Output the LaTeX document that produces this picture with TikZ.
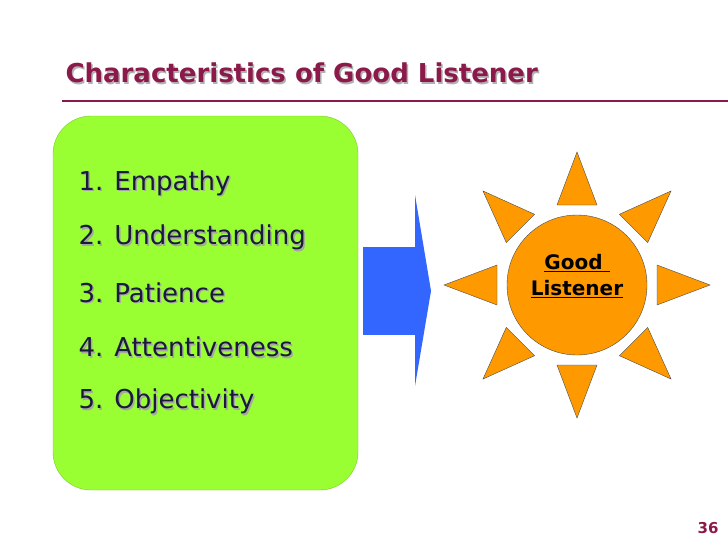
\documentclass[tikz,border=0pt]{standalone}
\usepackage{fontspec}
\setmainfont{DejaVu Sans}
\usepackage{xcolor}
\usetikzlibrary{calc}
\definecolor{maroon}{HTML}{8B1A4A}
\definecolor{navy}{HTML}{1A1A3A}
\definecolor{limegreen}{HTML}{99FF33}
\definecolor{sunorange}{HTML}{FF9900}
\definecolor{arrowblue}{HTML}{3366FF}
\tikzset{
  item/.style={anchor=west, text=navy, font=\fontsize{26}{30}\selectfont},
  ray/.style={draw=black!70, fill=sunorange, thin}
}
\begin{document}
\begin{tikzpicture}[x=1pt, y=-1pt]
        \useasboundingbox (0,0) rectangle (728,546);
        % title
        \node [anchor=west, text=gray!60, font=\bfseries\fontsize{26}{30}\selectfont] at (63.5,74.5) {Characteristics of Good Listener};
        \node (title) [anchor=west, text=maroon, font=\bfseries\fontsize{26}{30}\selectfont] at (62,73) {Characteristics of Good Listener};
        \draw [maroon, line width=2pt] (62,101) -- (728,101);

        % list box
        \draw [fill=limegreen, draw=limegreen!80!black, rounded corners=38pt] (53,116) rectangle (358,490);
        \foreach \n/\t [count=\i from 0] in {1/Empathy, 2/Understanding, 3/Patience, 4/Attentiveness, 5/Objectivity} {
            \node [item, text=gray!70] at (76.5,184.5+54.7*\i) {\n. \t};
            \node (item\n) [item] at (75,183+54.7*\i) {\n. \t};
        }

        % arrow
        \fill [arrowblue] (363,247) rectangle (416,335);
        \fill [arrowblue] (415,195) -- (431,291) -- (415,386) -- cycle;

        % sun
        \coordinate (sun) at (577,285);
        \foreach \a in {0,45,...,315} {
            \draw [ray] ($(sun)+(\a:133)$) -- ($(sun)+(\a:80)+(\a+90:20)$) -- ($(sun)+(\a:80)+(\a-90:20)$) -- cycle;
        }
        \draw [fill=sunorange, draw=black!70] (sun) circle [radius=70];
        \node (good) [font=\bfseries\fontsize{20}{24}\selectfont, align=center] at (577,276) {\underline{Good\ }\\[2pt]\underline{Listener}};

        % page number
        \node (page) [text=maroon, font=\bfseries\fontsize{15}{18}\selectfont] at (708,528) {36};
\end{tikzpicture}
\end{document}
